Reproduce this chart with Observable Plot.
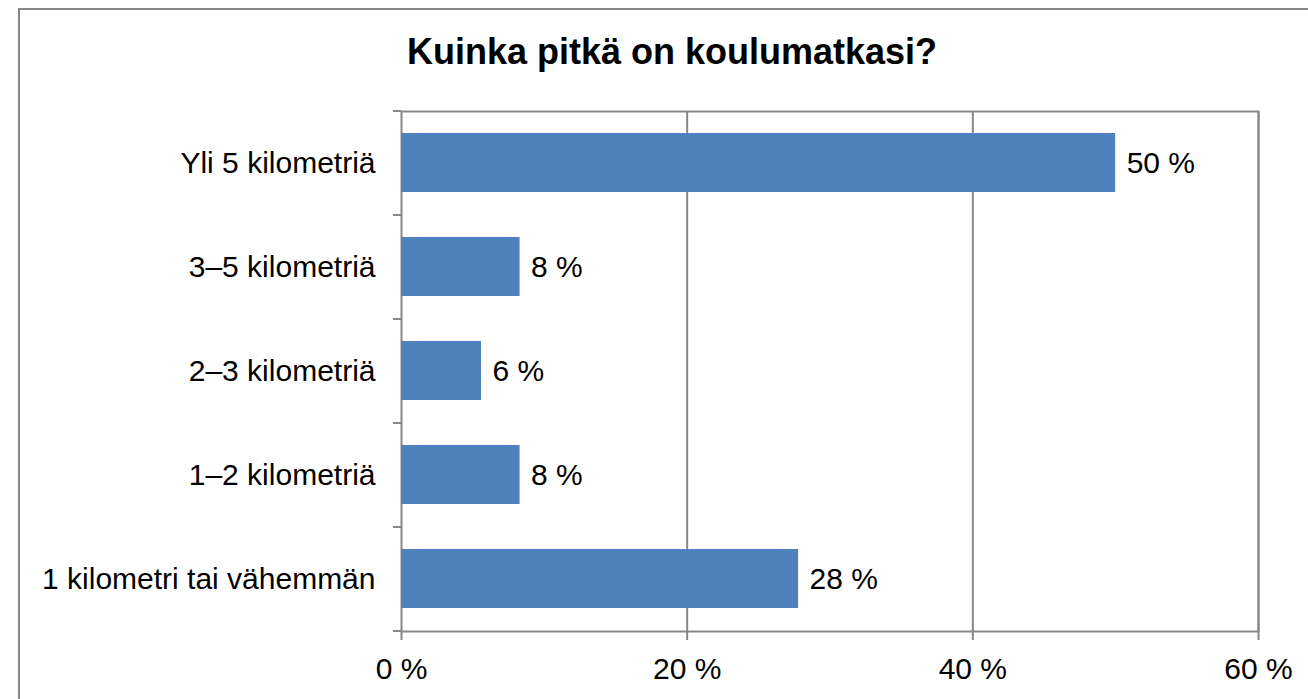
<!DOCTYPE html>
<html>
<head>
<meta charset="utf-8">
<script src="https://cdn.jsdelivr.net/npm/d3@7"></script>
<script src="https://cdn.jsdelivr.net/npm/@observablehq/plot@0.6"></script>
<style>
  html, body { margin: 0; padding: 0; background: #fff; }
  #wrap { position: relative; width: 1308px; height: 699px; overflow: hidden; font-family: "Liberation Sans", Arial, sans-serif; }
  #border { position: absolute; left: 18px; top: 8px; width: 1400px; height: 800px; border: 2px solid #878787; box-sizing: border-box; }
  #title { position: absolute; left: 0; width: 1308px; top: 31px; text-align: center; font-weight: bold; font-size: 36px; color: #000; padding-left: 36px; box-sizing: border-box; }
  #chart { position: absolute; left: 0; top: 0; }
</style>
</head>
<body>
<div id="wrap">
  <div id="border"></div>
  <div id="title">Kuinka pitkä on koulumatkasi?</div>
  <div id="chart"></div>
</div>
<script>
const categories = ["Yli 5 kilometriä", "3–5 kilometriä", "2–3 kilometriä", "1–2 kilometriä", "1 kilometri tai vähemmän"];
const values = [50, 8.3, 5.6, 8.3, 27.8];
const xTicks = [0, 20, 40, 60];

const data = categories.map((c, i) => ({category: c, value: values[i]}));
const gray = "#878787";

const chart = Plot.plot({
  width: 1308,
  height: 699,
  marginLeft: 401,
  marginRight: 50,
  marginTop: 111,
  marginBottom: 68,
  style: {fontFamily: "'Liberation Sans', Arial, sans-serif", fontSize: "30px", color: "#000", background: "transparent"},
  x: {domain: [0, 60], ticks: xTicks},
  y: {domain: categories, paddingInner: 0.43, paddingOuter: 0.215},
  marks: [
    Plot.ruleX(xTicks.slice(1), {stroke: gray, strokeWidth: 2}),
    Plot.frame({stroke: gray, strokeWidth: 2}),
    Plot.barX(data, {x: "value", y: "category", fill: "#4F81BD"}),
    Plot.ruleY(data, {y: "category", x1: -0.56, x2: 0, dy: -52, stroke: gray, strokeWidth: 2}),
    Plot.ruleY(data.slice(-1), {y: "category", x1: -0.56, x2: 0, dy: 52, stroke: gray, strokeWidth: 2}),
    Plot.text(data, {x: "value", y: "category", text: d => Math.round(d.value) + " %", textAnchor: "start", dx: 11, fill: "#000", fontSize: 30}),
    Plot.axisX({ticks: xTicks, tickFormat: d => d + " %", tickSize: 9, tickPadding: 17, stroke: gray, strokeWidth: 2, strokeOpacity: 1, label: null, fontSize: 30}),
    Plot.axisY({tickSize: 0, tickPadding: 26, label: null, fontSize: 30})
  ]
});
document.getElementById("chart").appendChild(chart);
</script>
</body>
</html>
